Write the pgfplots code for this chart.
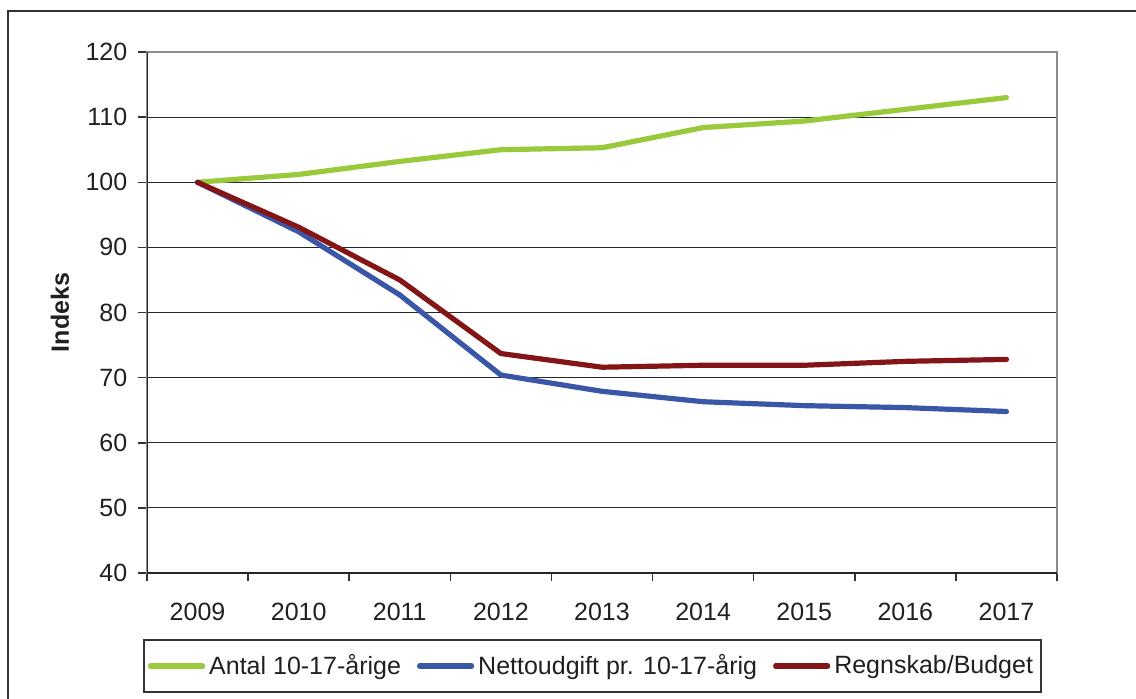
\documentclass[border=0pt]{standalone}
\usepackage{fontspec}
\setmainfont{Liberation Sans}
\usepackage{pgfplots}
\pgfplotsset{compat=1.18}
\definecolor{cgreen}{HTML}{9ACA3C}
\definecolor{cblue}{HTML}{3A56A6}
\definecolor{cred}{HTML}{841516}
\definecolor{ctext}{HTML}{231F20}
\begin{document}
\fontsize{12.5}{15}\selectfont
\begin{tikzpicture}
\useasboundingbox (0,0) rectangle (568pt,-349pt);
\draw[line width=1pt, black!80] (4pt,-400pt) -- (4pt,-5.5pt) -- (600pt,-5.5pt);
\begin{axis}[
  at={(73.5pt,-286.5pt)}, anchor=south west,
  scale only axis, width=455pt, height=260.5pt,
  xmin=-0.5, xmax=8.5, ymin=40, ymax=120,
  axis line style={black!45, line width=0.75pt},
  tick pos=left,
  xtick={0,...,8},
  xticklabels={2009,2010,2011,2012,2013,2014,2015,2016,2017},
  major x tick style={draw=none},
  minor xtick={-0.5,0.5,...,8.5},
  ytick={40,50,...,120},
  tick align=outside,
  major tick length=4.5pt, minor tick length=4pt,
  every tick/.style={black!80, line width=0.75pt},
  ymajorgrids, grid style={black!85, line width=0.6pt},
  /pgf/number format/assume math mode=true,
  tick label style={font=\fontsize{12.5}{15}\selectfont, text=ctext},
  xticklabel style={yshift=-6pt},
  yticklabel style={xshift=-1pt},
  ylabel={\bfseries Indeks},
  ylabel style={font=\fontsize{12.5}{15}\selectfont, text=ctext, at={(axis description cs:-0.0956,0.5)}, anchor=center},
  legend columns=-1,
  legend style={at={(axis description cs:0.4896,-0.1785)}, anchor=center,
    draw=black!80, line width=0.6pt, font=\fontsize{12.5}{15}\selectfont, text=ctext,
    inner xsep=2pt, inner ysep=5pt,
    /tikz/every even column/.append style={column sep=6pt}},
  legend image code/.code={\draw[#1, line width=2.6pt] (0pt,0pt) -- (26pt,0pt);},
  every axis plot/.append style={line width=2.6pt, line join=round, line cap=round},
]
\addplot[cgreen] coordinates {(0,100) (1,101.2) (2,103.2) (3,105.0) (4,105.3) (5,108.4) (6,109.4) (7,111.2) (8,113.0)};
\addlegendentry{Antal 10-17-årige}
\addplot[cblue] coordinates {(0,100) (1,92.4) (2,82.7) (3,70.4) (4,67.9) (5,66.3) (6,65.7) (7,65.4) (8,64.8)};
\addlegendentry{Nettoudgift pr. 10-17-årig}
\addplot[cred] coordinates {(0,100) (1,93.1) (2,85.0) (3,73.7) (4,71.6) (5,71.9) (6,71.9) (7,72.5) (8,72.8)};
\addlegendentry{Regnskab/Budget}
\draw[black!85, line width=0.75pt] (rel axis cs:0,1) -- (rel axis cs:0,0) -- (rel axis cs:1,0);
\end{axis}
\end{tikzpicture}
\end{document}
